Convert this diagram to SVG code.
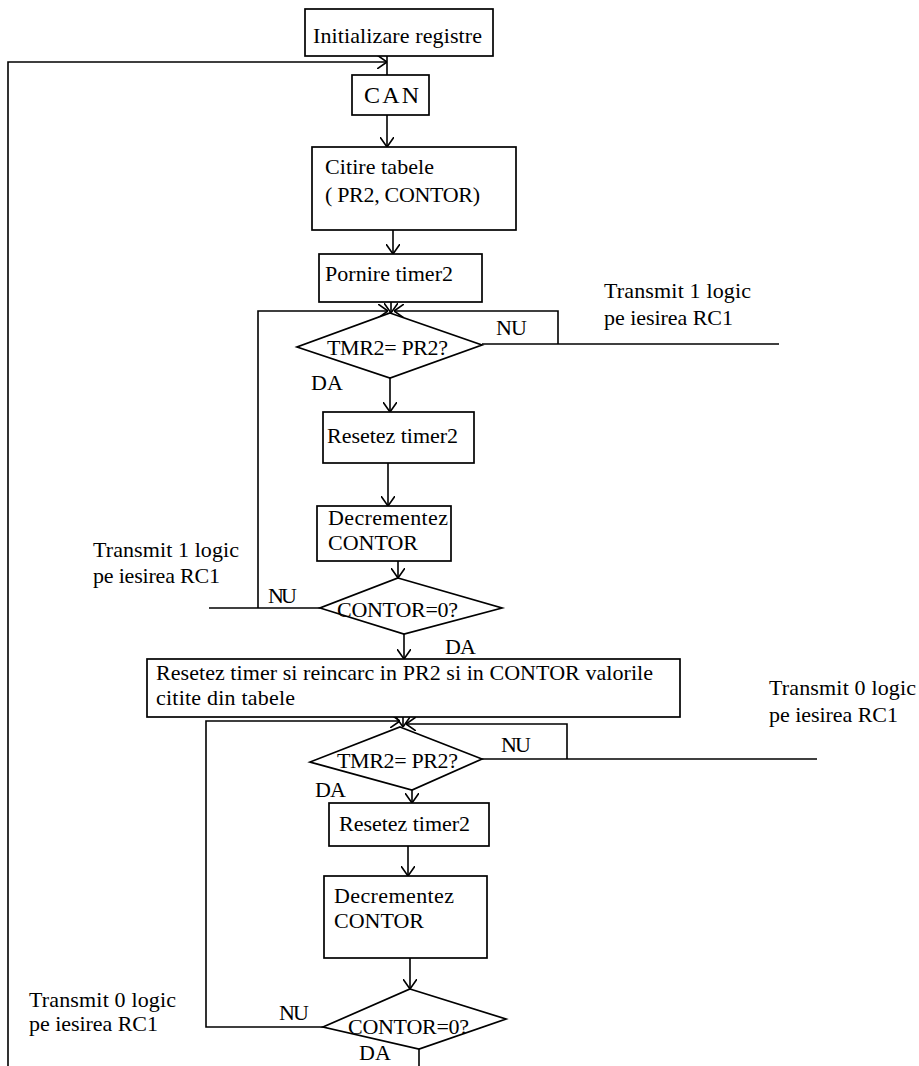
<svg xmlns="http://www.w3.org/2000/svg" width="919" height="1066" viewBox="0 0 919 1066">
<style>
.b{fill:#fff;stroke:#000;stroke-width:1.7}
.c{fill:none;stroke:#000;stroke-width:1.6}
.a{marker-end:url(#ar)}
text{font-family:"Liberation Serif","Times New Roman",serif;font-size:22px;fill:#000}
</style>
<defs>
<marker id="ar" viewBox="0 0 10 14" refX="10" refY="7" markerWidth="10" markerHeight="14" markerUnits="userSpaceOnUse" orient="auto">
<path d="M0,0 L10,7 L0,14" fill="none" stroke="#000" stroke-width="1.6"/>
</marker>
</defs>
<rect width="919" height="1066" fill="#fff"/>
<g id="connectors">
<path class="c a" d="M8,1066 L8,62 L387,62"/>
<path class="c" d="M387,56 L387,75"/>
<path class="c a" d="M387,115 L387,147"/>
<path class="c a" d="M393,230 L393,254"/>
<path class="c a" d="M391,302 L391,313"/>
<path class="c" d="M482,344 L779,344"/>
<path class="c a" d="M558,344 L558,311 L394,311"/>
<path class="c" d="M320,608 L209,608"/>
<path class="c a" d="M258,608 L258,311 L388,311"/>
<path class="c a" d="M390,378 L390,412"/>
<path class="c a" d="M388,463 L388,506"/>
<path class="c a" d="M398,561 L398,578"/>
<path class="c a" d="M404,634 L404,659"/>
<path class="c a" d="M403,717 L403,727"/>
<path class="c" d="M482,759 L817,759"/>
<path class="c a" d="M567,759 L567,724 L406,724"/>
<path class="c a" d="M323,1027 L206,1027 L206,721 L400,721"/>
<path class="c a" d="M412,790 L412,803"/>
<path class="c a" d="M408,846 L408,876"/>
<path class="c a" d="M410,958 L410,989"/>
<path class="c" d="M419,1049 L419,1066"/>
</g>
<g id="n-init"><rect class="b" x="305" y="9" width="188" height="47"/><text x="313" y="43" textLength="169" lengthAdjust="spacing">Initializare registre</text></g>
<g id="n-can"><rect class="b" x="352" y="75" width="77" height="40"/><text x="364" y="103" textLength="55" lengthAdjust="spacing" style="font-size:24px">CAN</text></g>
<g id="n-citire"><rect class="b" x="312" y="147" width="204" height="83"/><text x="325" y="174" textLength="109" lengthAdjust="spacing">Citire tabele</text><text x="325" y="202" textLength="155" lengthAdjust="spacing">( PR2, CONTOR)</text></g>
<g id="n-pornire"><rect class="b" x="319" y="254" width="163" height="48"/><text x="325" y="281" textLength="128" lengthAdjust="spacing">Pornire timer2</text></g>
<g id="n-d1"><polygon class="b" points="390,313 482,345 390,378 297,347"/><text x="327" y="355" textLength="121" lengthAdjust="spacing">TMR2= PR2?</text></g>
<g id="n-res1"><rect class="b" x="323" y="412" width="151" height="51"/><text x="327" y="443" textLength="131" lengthAdjust="spacing">Resetez timer2</text></g>
<g id="n-dec1"><rect class="b" x="317" y="506" width="134" height="55"/><text x="328" y="525" textLength="120" lengthAdjust="spacing">Decrementez</text><text x="328" y="550" textLength="90" lengthAdjust="spacing">CONTOR</text></g>
<g id="n-d2"><polygon class="b" points="398,578 502,608 404,634 320,608"/><text x="337" y="617" textLength="121" lengthAdjust="spacing">CONTOR=0?</text></g>
<g id="n-big"><rect class="b" x="147" y="659" width="533" height="58"/><text x="156" y="680" textLength="497" lengthAdjust="spacing">Resetez timer si reincarc in PR2 si in CONTOR valorile</text><text x="156" y="705" textLength="139" lengthAdjust="spacing">citite din tabele</text></g>
<g id="n-d3"><polygon class="b" points="400,727 482,759 412,790 310,762"/><text x="337" y="768" textLength="121" lengthAdjust="spacing">TMR2= PR2?</text></g>
<g id="n-res2"><rect class="b" x="329" y="803" width="160" height="43"/><text x="339" y="831" textLength="131" lengthAdjust="spacing">Resetez timer2</text></g>
<g id="n-dec2"><rect class="b" x="324" y="876" width="163" height="82"/><text x="334" y="903" textLength="120" lengthAdjust="spacing">Decrementez</text><text x="334" y="928" textLength="90" lengthAdjust="spacing">CONTOR</text></g>
<g id="n-d4"><polygon class="b" points="410,989 506,1019 419,1049 323,1027"/><text x="348" y="1034" textLength="121" lengthAdjust="spacing">CONTOR=0?</text></g>
<g id="labels">
<text x="496" y="335" textLength="31" lengthAdjust="spacing">NU</text>
<text x="311" y="390" textLength="32" lengthAdjust="spacing">DA</text>
<text x="604" y="298" textLength="147" lengthAdjust="spacing">Transmit 1 logic</text>
<text x="604" y="325" textLength="129" lengthAdjust="spacing">pe iesirea RC1</text>
<text x="93" y="557" textLength="146" lengthAdjust="spacing">Transmit 1 logic</text>
<text x="93" y="583" textLength="127" lengthAdjust="spacing">pe iesirea RC1</text>
<text x="268" y="603" textLength="29" lengthAdjust="spacing">NU</text>
<text x="445" y="654" textLength="31" lengthAdjust="spacing">DA</text>
<text x="769" y="695" textLength="147" lengthAdjust="spacing">Transmit 0 logic</text>
<text x="769" y="722" textLength="129" lengthAdjust="spacing">pe iesirea RC1</text>
<text x="501" y="752" textLength="30" lengthAdjust="spacing">NU</text>
<text x="315" y="797" textLength="31" lengthAdjust="spacing">DA</text>
<text x="29" y="1007" textLength="147" lengthAdjust="spacing">Transmit 0 logic</text>
<text x="29" y="1031" textLength="129" lengthAdjust="spacing">pe iesirea RC1</text>
<text x="279" y="1020" textLength="30" lengthAdjust="spacing">NU</text>
<text x="359" y="1060" textLength="32" lengthAdjust="spacing">DA</text>
</g>
</svg>
